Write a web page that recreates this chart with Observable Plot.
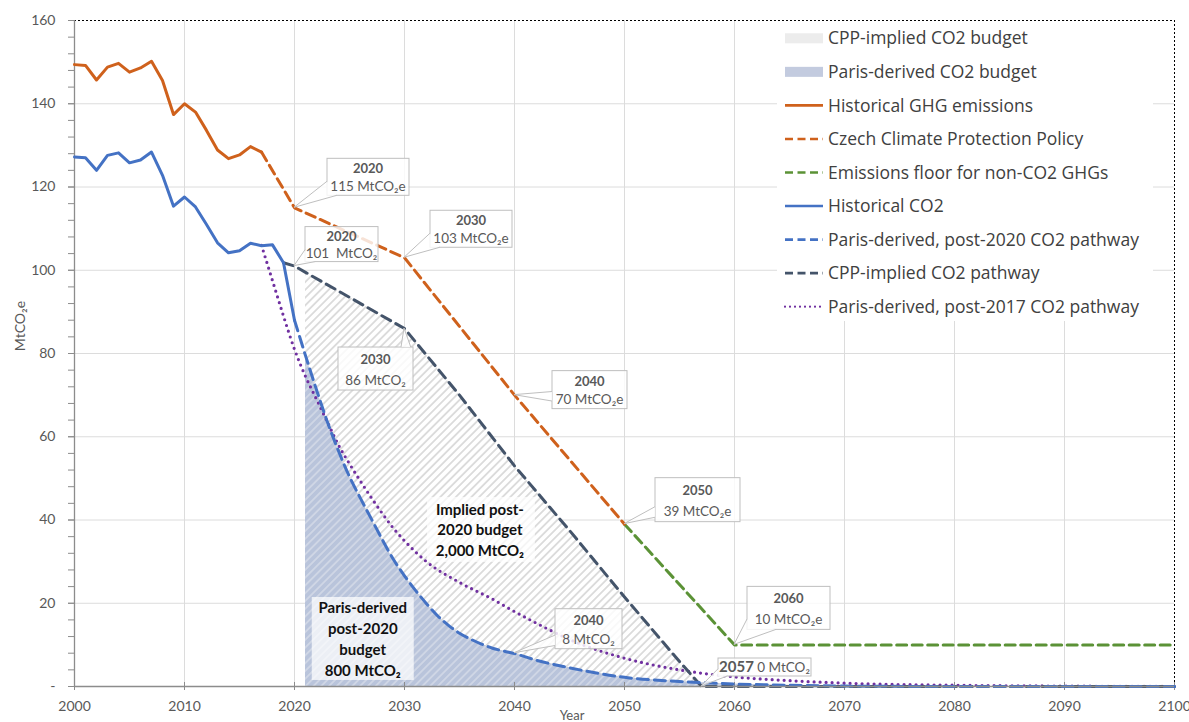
<!DOCTYPE html>
<html><head><meta charset="utf-8">
<script src="https://cdn.jsdelivr.net/npm/d3@7"></script>
<script src="https://cdn.jsdelivr.net/npm/@observablehq/plot@0.6"></script>
<style>body{margin:0;background:#fff;} svg{display:block}</style>
</head><body><div id="chart"></div>
<script>
// ---------- data ----------
const ghgHistYears = d3.range(2000, 2018);
const ghgHistValues = [149.4, 149.2, 145.7, 148.8, 149.7, 147.6, 148.6, 150.2, 145.6, 137.4, 140.0, 138.0, 133.6, 128.9, 126.8, 127.7, 129.7, 128.4];

const cppGhgYears = [2017, 2020, 2030, 2040, 2050];
const cppGhgValues = [128.4, 115, 103, 70, 39];

const floorYears = [2050, 2060, 2100];
const floorValues = [39, 10, 10];

const co2HistYears = d3.range(2000, 2021);
const co2HistValues = [127.2, 127.0, 124.0, 127.6, 128.2, 125.8, 126.5, 128.4, 122.8, 115.4, 117.6, 115.2, 111.0, 106.6, 104.2, 104.7, 106.5, 105.9, 106.1, 101.8, 88.0];

const paris2020Years = [2020, 2021, 2022, 2023, 2024, 2025, 2026, 2027, 2028, 2029, 2030, 2031, 2032, 2033, 2034, 2035, 2036, 2037, 2038, 2039, 2040, 2042, 2045, 2050, 2055, 2060, 2065, 2070, 2080, 2100];
const paris2020Values = [88, 79.5, 71.3, 63.5, 56.6, 50.4, 45.2, 40.2, 35.2, 30.5, 26.6, 23.1, 19.9, 17.0, 14.7, 12.8, 11.4, 10.2, 9.2, 8.5, 7.9, 6.3, 4.5, 2.2, 1.2, 0.6, 0.3, 0.1, 0, 0];

const cppCo2Years = [2019, 2020, 2021, 2030, 2035, 2040, 2045, 2050, 2055, 2057, 2100];
const cppCo2Values = [101.8, 101, 99.5, 86, 70, 53, 37.5, 21.5, 6, 0, 0];

const paris2017Years = [2017, 2018, 2019, 2020, 2021, 2022, 2023, 2024, 2025, 2026, 2027, 2028, 2029, 2030, 2032, 2035, 2038, 2040, 2042, 2045, 2050, 2055, 2060, 2065, 2070, 2080, 2090, 2100];
const paris2017Values = [106, 97.5, 89, 81, 74.5, 69, 63.5, 58, 53.5, 49.3, 45.3, 41.5, 38, 35, 30, 25, 21, 18, 15.2, 11.3, 6.8, 4.0, 2.3, 1.4, 0.8, 0.3, 0.1, 0];

const legendLabels = ["CPP-implied CO2 budget", "Paris-derived CO2 budget", "Historical GHG emissions", "Czech Climate Protection Policy", "Emissions floor for non-CO2 GHGs", "Historical CO2", "Paris-derived, post-2020 CO2 pathway", "CPP-implied CO2 pathway", "Paris-derived, post-2017 CO2 pathway"];

const calloutYears = [2020, 2020, 2030, 2030, 2040, 2050, 2060, 2040, 2057];
const calloutValues = [115, 101, 103, 86, 70, 39, 10, 8, 0];
const calloutTitles = ["2020", "2020", "2030", "2030", "2040", "2050", "2060", "2040", "2057"];
const calloutTexts = ["115 MtCO₂e", "101  MtCO₂", "103 MtCO₂e", "86 MtCO₂", "70 MtCO₂e", "39 MtCO₂e", "10 MtCO₂e", "8 MtCO₂", "0 MtCO₂"];

const xTicks = d3.range(2000, 2101, 10);
const yTicks = d3.range(0, 161, 20);
const yMinorTicks = d3.range(0, 161, 4);

const zip = (xs, vs) => xs.map((year, i) => ({year, value: vs[i]}));

// ---------- styles ----------
const ORANGE = "#cf611c", GREEN = "#5b9236", BLUE = "#4472c4", DARK = "#44546a", PURPLE = "#7030a0";
const AXIS = "#8c8c8c", GRID = "#dcdcdc";

const chart = Plot.plot({
  width: 1189, height: 722,
  marginLeft: 74, marginRight: 15, marginTop: 20, marginBottom: 36,
  x: {domain: [2000, 2100]},
  y: {domain: [0, 160]},
  style: {fontFamily: "Lato, sans-serif", fontSize: "14px", color: "#595959", background: "#fff", overflow: "visible"},
  marks: [
    Plot.gridY({ticks: yTicks.filter(d => d > 0 && d < 160), stroke: GRID, strokeOpacity: 1}),
    Plot.gridX({ticks: xTicks.filter(d => d > 2000 && d < 2100), stroke: GRID, strokeOpacity: 1}),
    Plot.areaY(zip(cppCo2Years, cppCo2Values).filter(d => d.year >= 2021), {x: "year", y: "value", fill: "url(#hatchGrey)"}),
    Plot.areaY(zip(paris2020Years, paris2020Values).filter(d => d.year >= 2021), {x: "year", y: "value", fill: "url(#hatchBlue)", curve: "monotone-x"}),
    Plot.ruleY([160], {stroke: "#000", strokeDasharray: "2,2", strokeWidth: 1}),
    Plot.ruleX([2100], {stroke: "#000", strokeDasharray: "2,2", strokeWidth: 1}),
    Plot.ruleX([2000], {stroke: AXIS, strokeWidth: 1.3}),
    Plot.axisY({ticks: yMinorTicks, tickSize: 6, stroke: AXIS, tickFormat: () => "", label: null}),
    Plot.axisY({ticks: yTicks, tickSize: 6, tickPadding: 13, stroke: AXIS, fill: "#595959", fontSize: 14, tickFormat: d => d === 0 ? "-" : String(d), label: null}),
    Plot.axisX({ticks: xTicks, tickSize: 4, tickPadding: 11, stroke: AXIS, fill: "#595959", fontSize: 14, tickFormat: d => String(d), label: null}),
    Plot.axisX({ticks: xTicks, tickSize: -4, stroke: AXIS, tickFormat: () => "", label: null}),
    // lines
    Plot.line(zip(paris2017Years, paris2017Values), {x: "year", y: "value", stroke: PURPLE, strokeWidth: 3.2, strokeDasharray: "0,6", strokeLinecap: "round", curve: "monotone-x"}),
    Plot.line(zip(cppCo2Years, cppCo2Values), {x: "year", y: "value", stroke: DARK, strokeWidth: 3, strokeDasharray: "10,6"}),
    Plot.line(zip(paris2020Years, paris2020Values), {x: "year", y: "value", stroke: BLUE, strokeWidth: 3, strokeDasharray: "11,6", curve: "monotone-x"}),
    Plot.line(zip(co2HistYears, co2HistValues), {x: "year", y: "value", stroke: BLUE, strokeWidth: 3}),
    Plot.line(zip(floorYears, floorValues), {x: "year", y: "value", stroke: GREEN, strokeWidth: 3, strokeDasharray: "10,5.5"}),
    Plot.line(zip(cppGhgYears, cppGhgValues), {x: "year", y: "value", stroke: ORANGE, strokeWidth: 3, strokeDasharray: "10,5.5"}),
    Plot.line(zip(ghgHistYears, ghgHistValues), {x: "year", y: "value", stroke: ORANGE, strokeWidth: 3}),
    Plot.ruleY([0], {stroke: AXIS, strokeWidth: 1.3})
  ]
});
document.getElementById("chart").appendChild(chart);

const svg = d3.select(chart);
const sx = chart.scale("x"), sy = chart.scale("y");
const X = v => sx.apply(v), Y = v => sy.apply(v);

// patterns
const defs = svg.insert("defs", ":first-child");
function hatch(id, bg, fg) {
  const p = defs.append("pattern").attr("id", id).attr("patternUnits", "userSpaceOnUse")
    .attr("width", 5.5).attr("height", 5.5).attr("patternTransform", "rotate(45)");
  p.append("rect").attr("width", 5.5).attr("height", 5.5).attr("fill", bg);
  p.append("line").attr("x1", 2.75).attr("x2", 2.75).attr("y1", 0).attr("y2", 5.5).attr("stroke", fg).attr("stroke-width", 1.6);
}
hatch("hatchGrey", "#ffffff", "#d6d6d6");
hatch("hatchBlue", "#b9c4db", "#d3d9e7");

// budget text annotations
const ann = svg.append("g").attr("font-family", "Lato, sans-serif");
function budgetText(cx, cy, lines, box) {
  const px = X(cx), py = Y(cy);
  ann.append("rect").attr("x", px + box[0]).attr("y", py + box[1]).attr("width", box[2]).attr("height", box[3])
    .attr("fill", "#fff").attr("fill-opacity", 0.72);
  const lh = 20.8, n = lines.length;
  lines.forEach((t, i) => {
    ann.append("text").attr("x", px).attr("y", py + (i - (n - 1) / 2) * lh).attr("dy", "0.36em")
      .attr("text-anchor", "middle").attr("font-weight", 700).attr("font-size", 15).attr("fill", "#111").text(t);
  });
}
budgetText(2036.9, 37.5, ["Implied post-", "2020 budget", "2,000 MtCO₂"], [-53, -33, 108, 65]);
budgetText(2026.25, 11.3, ["Paris-derived", "post-2020", "budget", "800 MtCO₂"], [-51, -42, 102, 83]);

// callouts (layout)
const calloutLayout = [
  {dx: 33, dy: -49, w: 82, h: 37, base: [[0, 0.62], [0.12, 1]]},
  {dx: 11, dy: -39, w: 73, h: 35, base: [[0, 0.66], [0.14, 1]]},
  {dx: 26, dy: -47, w: 82, h: 37, base: [[0, 0.62], [0.12, 1]]},
  {dx: -66, dy: 19, w: 75, h: 43, base: [[0.84, 0], [0.97, 0]]},
  {dx: 38, dy: -24, w: 75, h: 38, base: [[0, 0.55], [0, 0.8]]},
  {dx: 31, dy: -46, w: 85, h: 44, base: [[0, 0.66], [0, 0.9]]},
  {dx: 13, dy: -58, w: 83, h: 43, base: [[0, 0.76], [0.35, 1]]},
  {dx: 41, dy: -44, w: 67, h: 40, base: [[0, 0.66], [0, 0.92]]},
  {dx: 17, dy: -28, w: 93, h: 18, base: [[0, 0.6], [0.1, 1]], inline: true}
];
const cg = svg.append("g").attr("font-family", "Lato, sans-serif");
calloutYears.forEach((yr, i) => {
  const L = calloutLayout[i];
  const px = X(yr), py = Y(calloutValues[i]);
  const bx = px + L.dx, by = py + L.dy;
  const g = cg.append("g");
  g.append("rect").attr("x", bx).attr("y", by).attr("width", L.w).attr("height", L.h)
    .attr("fill", "#fff").attr("fill-opacity", 0.82).attr("stroke", "#bfbfbf").attr("stroke-width", 1);
  const b1 = [bx + L.base[0][0] * L.w, by + L.base[0][1] * L.h];
  const b2 = [bx + L.base[1][0] * L.w, by + L.base[1][1] * L.h];
  g.append("path").attr("d", `M${px},${py}L${b1}L${b2}Z`).attr("fill", "#fff").attr("fill-opacity", 0.82);
  g.append("path").attr("d", `M${b1}L${px},${py}L${b2}`).attr("fill", "none").attr("stroke", "#bfbfbf").attr("stroke-width", 1);
  if (L.inline) {
    const t = g.append("text").attr("x", bx + L.w / 2).attr("y", by + L.h / 2).attr("dy", "0.36em").attr("text-anchor", "middle").attr("fill", "#595959");
    t.append("tspan").attr("font-weight", 700).attr("font-size", 15).text(calloutTitles[i]);
    t.append("tspan").attr("font-size", 13.5).text(" " + calloutTexts[i]);
  } else {
    g.append("text").attr("x", bx + L.w / 2).attr("y", by + 0.28 * L.h).attr("dy", "0.36em").attr("text-anchor", "middle")
      .attr("font-weight", 700).attr("font-size", 13).attr("fill", "#595959").text(calloutTitles[i]);
    g.append("text").attr("x", bx + L.w / 2).attr("y", by + 0.76 * L.h).attr("dy", "0.36em").attr("text-anchor", "middle")
      .attr("font-size", 13.5).attr("fill", "#595959").text(calloutTexts[i]);
  }
});

// axis titles
svg.append("text").attr("transform", `translate(20,326) rotate(-90)`).attr("text-anchor", "middle").attr("dy", "0.36em")
  .attr("font-family", "Lato, sans-serif").attr("font-size", 14).attr("fill", "#595959").text("MtCO₂e");
svg.append("text").attr("x", 572).attr("y", 720).attr("text-anchor", "middle")
  .attr("font-family", "Lato, sans-serif").attr("font-size", 13).attr("fill", "#595959").text("Year");

// legend
const legendKeys = [
  {type: "rect", color: "#ececec"},
  {type: "rect", color: "#c3cbdf"},
  {type: "line", color: ORANGE},
  {type: "line", color: ORANGE, dash: "8,4.5"},
  {type: "line", color: GREEN, dash: "8,4.5"},
  {type: "line", color: BLUE},
  {type: "line", color: BLUE, dash: "8,4.5"},
  {type: "line", color: DARK, dash: "8,4.5"},
  {type: "line", color: PURPLE, dash: "0,5", cap: "round", width: 2.2}
];
const lg = svg.append("g").attr("font-family", "'Open Sans', sans-serif").attr("text-anchor", "start");
lg.append("rect").attr("x", 777).attr("y", 21).attr("width", 376).attr("height", 300).attr("fill", "#fff");
legendLabels.forEach((lab, i) => {
  const cy = 38.3 + i * 33.55;
  const k = legendKeys[i];
  if (k.type === "rect") {
    lg.append("rect").attr("x", 785).attr("y", cy - 5).attr("width", 38).attr("height", 10).attr("fill", k.color);
  } else {
    lg.append("line").attr("x1", 785).attr("x2", 823).attr("y1", cy).attr("y2", cy).attr("stroke", k.color)
      .attr("stroke-width", k.width || 2.6).attr("stroke-dasharray", k.dash || null).attr("stroke-linecap", k.cap || "butt");
  }
  lg.append("text").attr("x", 828).attr("y", cy).attr("dy", "0.35em").attr("text-anchor", "start")
    .attr("font-size", 17.5).attr("fill", "#404040").text(lab);
});
</script></body></html>
